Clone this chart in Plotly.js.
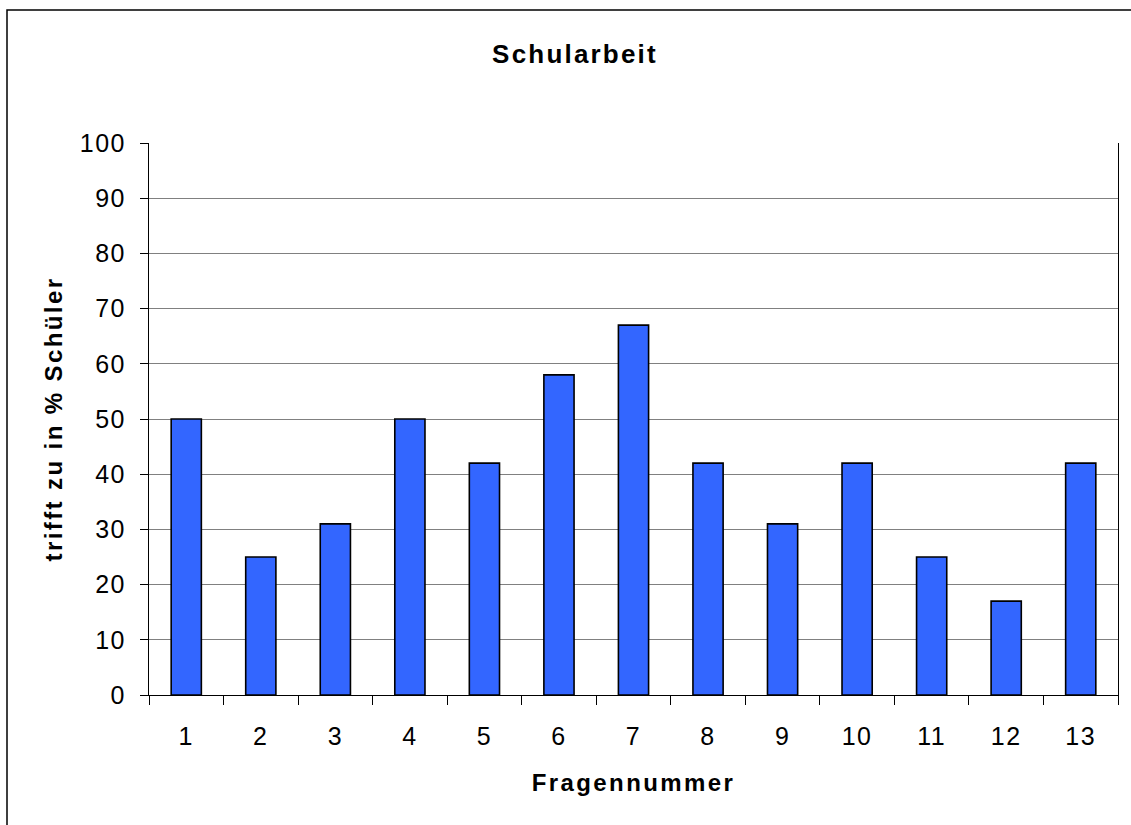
<!DOCTYPE html>
<html>
<head>
<meta charset="utf-8">
<script src="https://cdn.plot.ly/plotly-3.0.1.min.js"></script>
<style>
  html, body { margin: 0; padding: 0; background: #fff; }
  #chart { width: 1131px; height: 825px; }
  #chart .gtitle { letter-spacing: 2.2px; }
  #chart .g-xtitle text, #chart .g-ytitle text { letter-spacing: 2.4px; }
  #chart .xtick text, #chart .ytick text { letter-spacing: 1.5px; }
</style>
</head>
<body>
<div id="chart"></div>
<script>
const categories = ["1","2","3","4","5","6","7","8","9","10","11","12","13"];
const values = [50, 25, 31, 50, 42, 58, 67, 42, 31, 42, 25, 17, 42];
const yTicks = [0, 10, 20, 30, 40, 50, 60, 70, 80, 90, 100];
const chartTitle = "Schularbeit";
const xTitle = "Fragennummer";
const yTitle = "trifft zu in % Schüler";

const FONT = "Liberation Sans, Arial, sans-serif";

const trace = {
  type: "bar",
  x: categories,
  y: values,
  marker: { color: "#3366FF", line: { color: "#000000", width: 1.6 } },
  hoverinfo: "x+y"
};

const L = 149, R = 1118, T = 143, B = 695;
const W = 1131, H = 825;
const pw = R - L, ph = B - T;
function px(x) { return (x - L) / pw; }
function py(y) { return (B - y) / ph; }

const layout = {
  width: W, height: H,
  margin: { l: L, r: W - R, t: T, b: H - B, pad: 0 },
  paper_bgcolor: "#ffffff",
  plot_bgcolor: "#ffffff",
  showlegend: false,
  bargap: 0.595,
  font: { family: FONT, color: "#000000", size: 25 },
  title: {
    text: "<b>" + chartTitle + "</b>",
    font: { family: FONT, size: 26, color: "#000000" },
    xref: "paper", x: px(575), xanchor: "center",
    yref: "container", y: 1 - 54 / H, yanchor: "middle"
  },
  xaxis: {
    type: "category",
    tickson: "boundaries",
    ticks: "outside", ticklen: 9, tickwidth: 1, tickcolor: "#000000",
    showline: true, linecolor: "#000000", linewidth: 1,
    showgrid: false, zeroline: false,
    tickfont: { family: FONT, size: 25, color: "#000000" },
    ticklabelstandoff: 19,
    title: { text: "<b>" + xTitle + "</b>", font: { family: FONT, size: 24, color: "#000000" }, standoff: 25 },
    fixedrange: true
  },
  yaxis: {
    range: [0, 100],
    tickvals: yTicks,
    ticktext: yTicks.map(String),
    ticks: "outside", ticklen: 8, tickwidth: 1, tickcolor: "#000000",
    showline: true, linecolor: "#000000", linewidth: 1, mirror: true,
    showgrid: true, gridcolor: "#808080", gridwidth: 1,
    zeroline: false,
    tickfont: { family: FONT, size: 25, color: "#000000" },
    ticklabelstandoff: 9,
    title: { text: "<b>" + yTitle + "</b>", font: { family: FONT, size: 24, color: "#000000" }, standoff: 14 },
    fixedrange: true
  },
  shapes: [
    {
      type: "rect", xref: "paper", yref: "paper",
      x0: px(7), x1: px(1145), y0: py(835), y1: py(10),
      line: { color: "#000000", width: 1.5 }, fillcolor: "rgba(0,0,0,0)", layer: "below"
    }
  ]
};

Plotly.newPlot("chart", [trace], layout, { displayModeBar: false, staticPlot: true });
</script>
</body>
</html>
